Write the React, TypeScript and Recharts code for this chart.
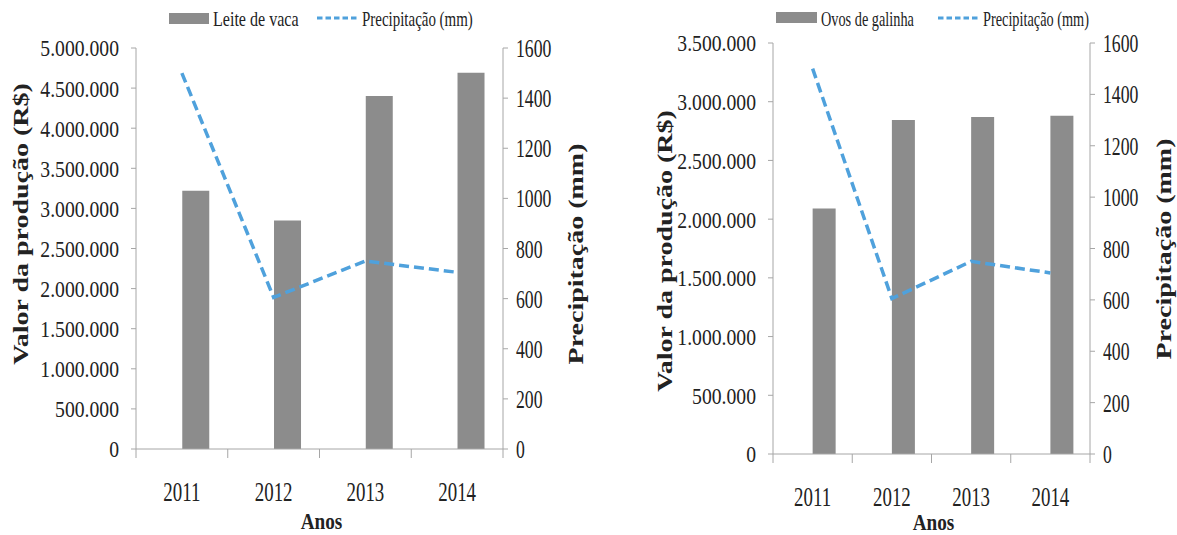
import { ComposedChart, Bar, Line, XAxis, YAxis, Legend } from 'recharts';

const years = ['2011', '2012', '2013', '2014'];
const leiteDeVaca = [3220000, 2850000, 4400000, 4690000];
const ovosDeGalinha = [2090000, 2845000, 2870000, 2880000];
const precipitacao = [1500, 605, 750, 705];

const leiteTicks = [0, 500000, 1000000, 1500000, 2000000, 2500000, 3000000, 3500000, 4000000, 4500000, 5000000];
const ovosTicks = [0, 500000, 1000000, 1500000, 2000000, 2500000, 3000000, 3500000];
const precipTicks = [0, 200, 400, 600, 800, 1000, 1200, 1400, 1600];

const SERIF = '"Liberation Serif", "Times New Roman", serif';
const AXIS = '#a6a6a6';
const BAR = '#8c8c8c';
const LINE = '#4fa1dc';
const INK = '#222';

const fmt = (v: number) => String(v).replace(/\B(?=(\d{3})+(?!\d))/g, '.');

type TextProps = {
  px: number;
  py: number;
  title: string;
  size: number;
  bold?: boolean;
  sx?: number;
  sy?: number;
  vertical?: boolean;
  anchor?: 'start' | 'middle' | 'end';
};

// text squeezed along one direction, optionally rotated to read bottom-up
const ChartText = ({ px, py, title, size, bold, sx = 1, sy = 1, vertical, anchor = 'middle' }: TextProps) => (
  <text
    transform={`translate(${px},${py})${vertical ? ' rotate(-90)' : ''} scale(${sx},${sy})`}
    textAnchor={anchor}
    dy="0.35em"
    fontFamily={SERIF}
    fontSize={size}
    fontWeight={bold ? 700 : 400}
    fill={INK}
  >
    {title}
  </text>
);

const LeftTick = ({ x, y, payload }: any) => (
  <ChartText px={x} py={y} title={fmt(payload.value)} size={24} sx={0.82} anchor="end" />
);

const RightTick = ({ x, y, payload }: any) => (
  <ChartText px={x} py={y} title={String(payload.value)} size={26} sx={0.68} anchor="start" />
);

// year label plus the tick marks that sit between categories
const makeYearTick = (step: number, count: number) => ({ x, y, payload, index }: any) => (
  <g>
    <line x1={x - step / 2} x2={x - step / 2} y1={y} y2={y + 9} stroke={AXIS} />
    {index === count - 1 && <line x1={x + step / 2} x2={x + step / 2} y1={y} y2={y + 9} stroke={AXIS} />}
    <ChartText px={x} py={y + 43} title={payload.value} size={27} sx={0.7} />
  </g>
);

type LegendSpec = {
  swatchX: number;
  swatchW: number;
  swatchY: number;
  barText: string;
  barTextX: number;
  barSx: number;
  dashX: number;
  dashW: number;
  lineTextX: number;
  lineSx: number;
};

type PanelProps = {
  left: number;
  width: number;
  top: number;
  bottom: number;
  axisLeft: number;
  axisRight: number;
  values: number[];
  ticks: number[];
  legend: LegendSpec;
  leftTitle: { x: number; y: number };
  rightTitle: { x: number; y: number };
  anosY: number;
};

const HEIGHT = 535;

const Panel = ({ left, width, top, bottom, axisLeft, axisRight, values, ticks, legend, leftTitle, rightTitle, anosY }: PanelProps) => {
  const data = years.map((year, i) => ({ year, valor: values[i], precip: precipitacao[i] }));
  const plotW = width - axisLeft - axisRight;
  const step = plotW / years.length;
  const yMax = ticks[ticks.length - 1];

  return (
    <div style={{ position: 'absolute', left, top: 0 }}>
      <ComposedChart
        width={width}
        height={HEIGHT}
        data={data}
        margin={{ top, right: 0, bottom: 0, left: 0 }}
        barCategoryGap="21%"
        barGap={0}
      >
        <XAxis
          dataKey="year"
          height={HEIGHT - bottom}
          axisLine={{ stroke: AXIS }}
          tickLine={false}
          tickSize={0}
          tickMargin={0}
          interval={0}
          tick={makeYearTick(step, years.length)}
          label={<ChartText px={axisLeft + plotW / 2 + 2} py={anosY} title="Anos" size={24} bold sx={0.8} />}
        />
        <YAxis
          yAxisId="left"
          width={axisLeft}
          domain={[0, yMax]}
          ticks={ticks}
          interval={0}
          axisLine={{ stroke: AXIS }}
          tickLine={{ stroke: AXIS }}
          tickSize={5}
          tickMargin={12}
          tick={<LeftTick />}
          label={<ChartText px={leftTitle.x} py={leftTitle.y} title="Valor da produção (R$)" size={28} bold sy={0.75} vertical />}
        />
        <YAxis
          yAxisId="right"
          orientation="right"
          width={axisRight}
          domain={[0, 1600]}
          ticks={precipTicks}
          interval={0}
          axisLine={{ stroke: AXIS }}
          tickLine={{ stroke: AXIS }}
          tickSize={5}
          tickMargin={8}
          tick={<RightTick />}
          label={<ChartText px={rightTitle.x} py={rightTitle.y} title="Precipitação (mm)" size={28} bold sy={0.75} vertical />}
        />
        <Legend
          layout="horizontal"
          verticalAlign="middle"
          align="center"
          wrapperStyle={{ top: 0, left: 0, width, height: 34 }}
          content={() => (
            <svg width={width} height={34} style={{ display: 'block' }}>
              <rect x={legend.swatchX} y={legend.swatchY} width={legend.swatchW} height={11} fill={BAR} />
              <ChartText px={legend.barTextX} py={18} title={legend.barText} size={22} sx={legend.barSx} anchor="start" />
              <line
                x1={legend.dashX}
                x2={legend.dashX + legend.dashW}
                y1={18}
                y2={18}
                stroke={LINE}
                strokeWidth={3}
                strokeDasharray="5.5 3"
              />
              <ChartText px={legend.lineTextX} py={18} title="Precipitação (mm)" size={22} sx={legend.lineSx} anchor="start" />
            </svg>
          )}
        />
        {/* empty slot keeps each bar to the right of the year centre */}
        <Bar yAxisId="left" dataKey="blank" fill="none" isAnimationActive={false} />
        <Bar yAxisId="left" dataKey="valor" fill={BAR} isAnimationActive={false} />
        <Line
          yAxisId="right"
          dataKey="precip"
          stroke={LINE}
          strokeWidth={3.5}
          strokeDasharray="10 5"
          dot={false}
          activeDot={false}
          isAnimationActive={false}
        />
      </ComposedChart>
    </div>
  );
};

export default function App() {
  return (
    <div style={{ position: 'absolute', left: 0, top: 0, width: 1177, height: HEIGHT, background: '#fff', overflow: 'hidden' }}>
      <Panel
        left={0}
        width={590}
        top={48}
        bottom={449}
        axisLeft={136}
        axisRight={87}
        values={leiteDeVaca}
        ticks={leiteTicks}
        legend={{
          swatchX: 169,
          swatchW: 40,
          swatchY: 13,
          barText: 'Leite de vaca',
          barTextX: 213,
          barSx: 0.73,
          dashX: 317,
          dashW: 41,
          lineTextX: 362,
          lineSx: 0.68,
        }}
        leftTitle={{ x: 21, y: 224 }}
        rightTitle={{ x: 576, y: 254 }}
        anosY={521}
      />
      <Panel
        left={590}
        width={587}
        top={43}
        bottom={454}
        axisLeft={183}
        axisRight={87}
        values={ovosDeGalinha}
        ticks={ovosTicks}
        legend={{
          swatchX: 186,
          swatchW: 41,
          swatchY: 12,
          barText: 'Ovos de galinha',
          barTextX: 231,
          barSx: 0.65,
          dashX: 348,
          dashW: 42,
          lineTextX: 393,
          lineSx: 0.65,
        }}
        leftTitle={{ x: 75, y: 251 }}
        rightTitle={{ x: 574, y: 249 }}
        anosY={522}
      />
    </div>
  );
}
